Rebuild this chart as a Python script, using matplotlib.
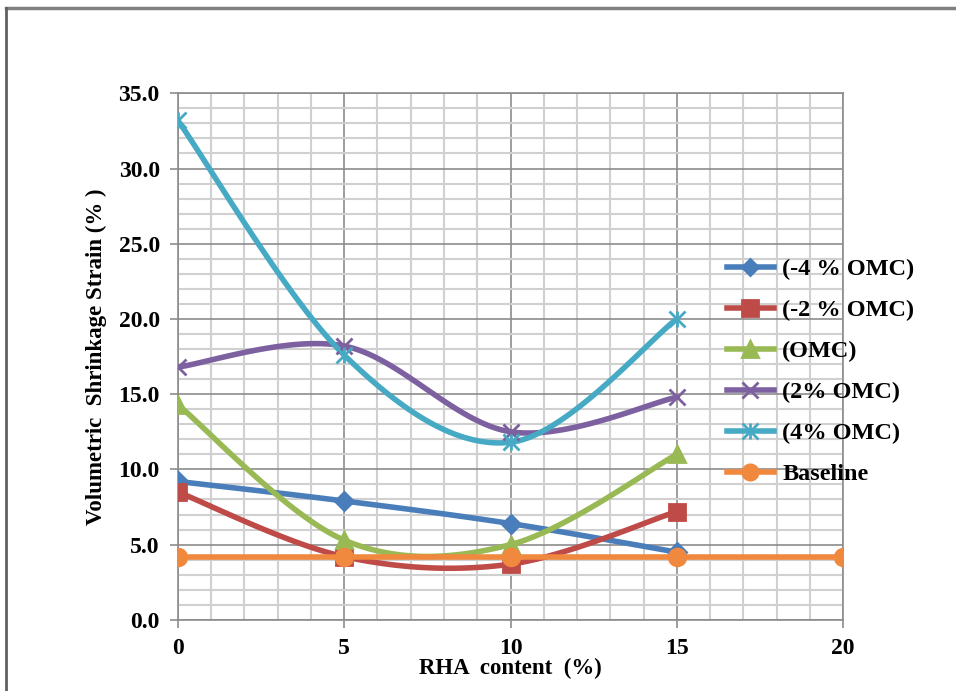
import matplotlib
matplotlib.use("Agg")
import matplotlib.pyplot as plt
from matplotlib.lines import Line2D
from matplotlib.legend_handler import HandlerTuple
import numpy as np

# RHA content (%) on x
rha = [0, 5, 10, 15]
rha_base = [0, 5, 10, 15, 20]

# volumetric shrinkage strain (%)
minus4_omc = [9.2, 7.9, 6.4, 4.5]
minus2_omc = [8.5, 4.2, 3.7, 7.2]
omc = [14.3, 5.3, 5.0, 11.0]
plus2_omc = [16.8, 18.2, 12.5, 14.8]
plus4_omc = [33.2, 17.6, 11.8, 20.0]
baseline = [4.2, 4.2, 4.2, 4.2, 4.2]

labels = ["(-4 % OMC)", "(-2 % OMC)", "(OMC)", "(2% OMC)", "(4% OMC)", "Baseline"]
colors = ["#4A7EBB", "#BE4B48", "#98B954", "#7D60A0", "#46AAC5", "#F0883E"]
markers = ["D", "s", "^", "x", "x", "o"]


def smooth(xs, ys, n=40):
    # excel-like smoothed line: bezier through the points
    xs = np.asarray(xs, float)
    ys = np.asarray(ys, float)
    px = np.concatenate([[xs[0]], xs, [xs[-1]]])
    py = np.concatenate([[ys[0]], ys, [ys[-1]]])
    outx, outy = [], []
    for i in range(1, len(px) - 2):
        t = np.linspace(0, 1, n)
        for p, out in ((px, outx), (py, outy)):
            p0, p1, p2, p3 = p[i - 1], p[i], p[i + 1], p[i + 2]
            c1 = p1 + (p2 - p0) / 6
            c2 = p2 - (p3 - p1) / 6
            out.extend((1 - t) ** 3 * p1 + 3 * (1 - t) ** 2 * t * c1
                       + 3 * (1 - t) * t ** 2 * c2 + t ** 3 * p2)
    return np.array(outx), np.array(outy)


plt.rcParams["font.family"] = "Liberation Serif"
plt.rcParams["font.weight"] = "bold"

fig = plt.figure(figsize=(9.56, 6.91), dpi=100)
ax = fig.add_axes([0.186, 0.103, 0.696, 0.762])

series = [(rha, minus4_omc), (rha, minus2_omc), (rha, omc),
          (rha, plus2_omc), (rha, plus4_omc), (rha_base, baseline)]

handles = []
for (xs, ys), lab, col, mk in zip(series, labels, colors, markers):
    sx, sy = smooth(xs, ys)
    ax.plot(sx, sy, color=col, lw=4, zorder=3, solid_capstyle="round")
    ms = 12 if mk != "D" else 9
    if lab == "(4% OMC)":
        ax.plot(xs, ys, ls="none", marker="x", ms=12, mew=2, color=col, zorder=4)
        ax.plot(xs, ys, ls="none", marker="|", ms=12, mew=2, color=col, zorder=4)
        h = (Line2D([], [], color=col, lw=4),
             Line2D([], [], color=col, ls="none", marker="x", ms=11, mew=2),
             Line2D([], [], color=col, ls="none", marker="|", ms=11, mew=2))
    else:
        ax.plot(xs, ys, ls="none", marker=mk, ms=ms, mew=2, color=col, zorder=4)
        h = Line2D([], [], color=col, lw=4, marker=mk, ms=ms - 1, mew=2)
    handles.append(h)

ax.set_xlim(0, 20)
ax.set_ylim(0, 35)
ax.set_xticks(range(0, 21, 5))
ax.set_yticks(np.arange(0, 35.1, 5))
ax.set_yticklabels(["%.1f" % v for v in np.arange(0, 35.1, 5)])
ax.set_xticks(range(0, 21), minor=True)
ax.set_yticks(range(0, 36), minor=True)
ax.grid(which="minor", color="#D0D0D0", lw=1.5, zorder=0)
ax.grid(which="major", color="#8C8C8C", lw=1.2, zorder=1)
ax.tick_params(which="minor", length=0)
ax.tick_params(which="major", length=6, width=1.2, color="#8C8C8C",
               labelsize=17, pad=7)
for lab in ax.get_xticklabels() + ax.get_yticklabels():
    lab.set_fontweight("bold")
for s in ax.spines.values():
    s.set_color("#8C8C8C")
    s.set_linewidth(1.2)

ax.set_xlabel("RHA  content  (%)", fontsize=16.5, fontweight="bold", labelpad=-1)
ax.set_ylabel("Volumetric  Shrinkage Strain (% )", fontsize=16.5,
              fontweight="bold", labelpad=8)

fig.legend(handles, labels, loc="center left", bbox_to_anchor=(0.738, 0.462),
           frameon=False, handlelength=1.9, labelspacing=0.78,
           handletextpad=0.35, handler_map={tuple: HandlerTuple(ndivide=1)},
           prop={"weight": "bold", "size": 17.5})

# frame lines of the original figure (top and left only)
fig.add_artist(Line2D([0.006, 1.0], [0.988, 0.988], color="#808080", lw=2.5,
                      transform=fig.transFigure))
fig.add_artist(Line2D([0.006, 0.006], [0.0, 0.988], color="#606060", lw=2,
                      transform=fig.transFigure))

fig.savefig("out.png", dpi=100)
